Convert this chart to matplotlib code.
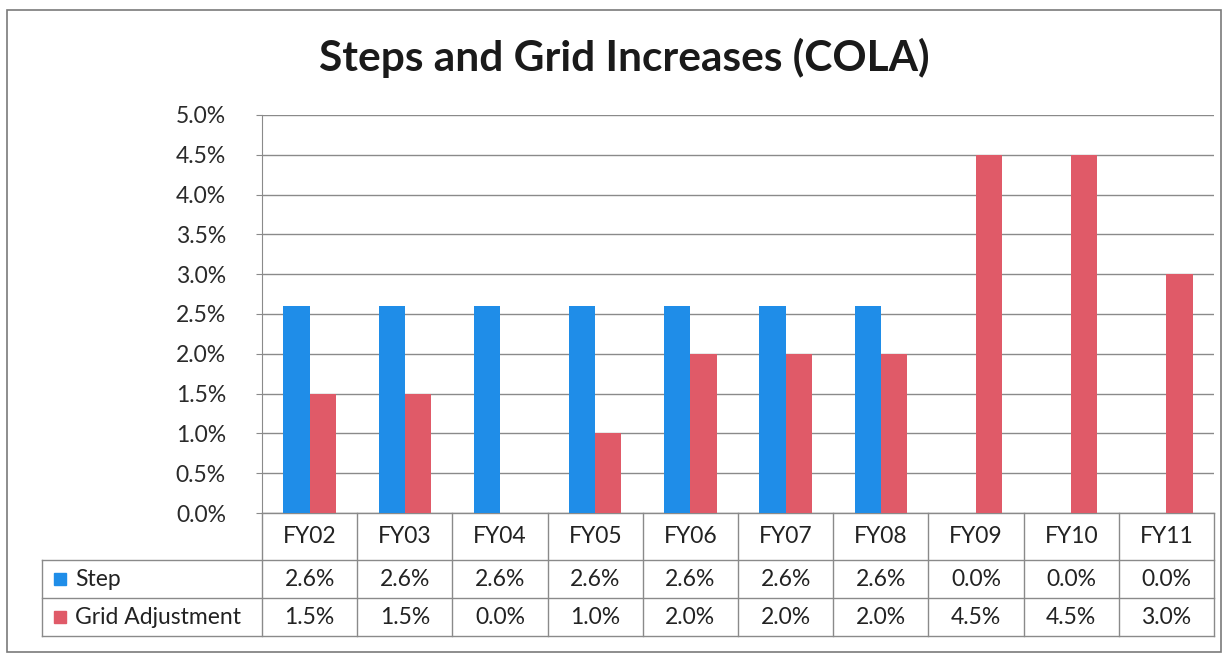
import matplotlib.pyplot as plt
from matplotlib.transforms import blended_transform_factory
from matplotlib.patches import Rectangle

years = ['FY02', 'FY03', 'FY04', 'FY05', 'FY06', 'FY07', 'FY08', 'FY09', 'FY10', 'FY11']
step = [2.6, 2.6, 2.6, 2.6, 2.6, 2.6, 2.6, 0.0, 0.0, 0.0]
grid_adj = [1.5, 1.5, 0.0, 1.0, 2.0, 2.0, 2.0, 4.5, 4.5, 3.0]
series_names = ['Step', 'Grid Adjustment']
blue = '#1F8DE8'
red = '#E05A68'
line_col = '#8A8A8A'

plt.rcParams['font.family'] = ['Lato', 'DejaVu Sans']

fig = plt.figure(figsize=(12.26, 6.54), dpi=100)
# outer chart border
fig.patches.append(Rectangle((0.006, 0.003), 0.99, 0.982, transform=fig.transFigure,
                             fill=False, edgecolor='#7A7A7A', linewidth=1.2))

ax = fig.add_axes([262 / 1226, 141 / 654, 952 / 1226, 398 / 654])
x = list(range(len(years)))
w = 0.275
ax.bar([i - w / 2 for i in x], step, width=w, color=blue, zorder=3)
ax.bar([i + w / 2 for i in x], grid_adj, width=w, color=red, zorder=3)

ax.set_xlim(-0.5, len(years) - 0.5)
ax.set_ylim(0, 5.0)
ax.set_yticks([i * 0.5 for i in range(11)])
ax.set_yticklabels([f'{i * 0.5:.1f}%' for i in range(11)], fontsize=16.5, color='#2A2A2A')
ax.set_xticks([])
ax.grid(axis='y', color=line_col, linewidth=1.0, zorder=0)
ax.tick_params(axis='y', length=4, color=line_col, pad=22)
for s in ['top', 'right', 'bottom']:
    ax.spines[s].set_visible(False)
ax.spines['left'].set_color(line_col)

fig.text(624 / 1226, 1 - 58 / 654, 'Steps and Grid Increases (COLA)', fontsize=30.5,
         fontweight='bold', color='#1A1A1A', ha='center', va='center')

# data table below the plot
tr = blended_transform_factory(ax.transData, ax.transAxes)
rows_y = [0, -47 / 398, -85 / 398, -123 / 398]
left_x = -0.5 - 220 / 95.2
right_x = len(years) - 0.5
lk = dict(color=line_col, linewidth=1.0, transform=tr, clip_on=False)
ax.plot([-0.5, right_x], [rows_y[0]] * 2, **lk)
for yy in rows_y[1:]:
    ax.plot([left_x, right_x], [yy] * 2, **lk)
for i in range(len(years) + 1):
    ax.plot([i - 0.5] * 2, [rows_y[0], rows_y[3]], **lk)
ax.plot([left_x] * 2, [rows_y[1], rows_y[3]], **lk)

tk = dict(transform=tr, ha='center', va='center', fontsize=16.5, color='#222222', clip_on=False)
for i, yr in enumerate(years):
    ax.text(i, (rows_y[0] + rows_y[1]) / 2, yr, **tk)
    ax.text(i, (rows_y[1] + rows_y[2]) / 2, f'{step[i]:.1f}%', **tk)
    ax.text(i, (rows_y[2] + rows_y[3]) / 2, f'{grid_adj[i]:.1f}%', **tk)

for name, col, r in [(series_names[0], blue, 1), (series_names[1], red, 2)]:
    ym = (rows_y[r] + rows_y[r + 1]) / 2
    ax.plot([left_x + 0.19], [ym], marker='s', markersize=8, color=col,
            transform=tr, clip_on=False, linestyle='none')
    ax.text(left_x + 0.35, ym, name, transform=tr, ha='left', va='center',
            fontsize=16.5, color='#222222', clip_on=False)

fig.savefig('out.png', dpi=100)
